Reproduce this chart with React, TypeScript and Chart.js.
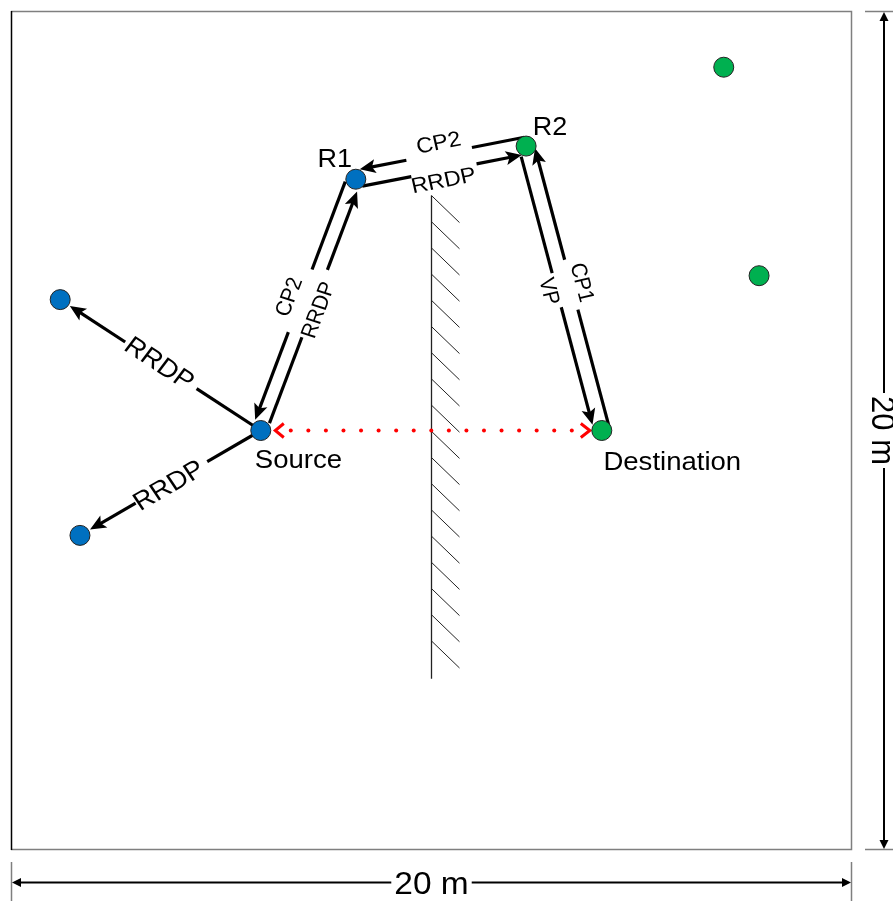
import React, { useEffect, useRef } from 'react';
import { Chart, registerables } from 'chart.js';

Chart.register(...registerables);

// ---------- data (metres, 20 m x 20 m area) ----------
const AREA_MIN = 0;
const AREA_MAX = 20;
const dimLabel = '20 m';

const blueNames = ['Source', 'R1', 'N1', 'N2'];
const blueX = [5.94, 8.2, 1.17, 1.64];
const blueY = [10.0, 15.99, 13.12, 7.5];

const greenNames = ['R2', 'Destination', 'N3', 'N4'];
const greenX = [12.25, 14.05, 16.95, 17.79];
const greenY = [16.78, 10.0, 18.66, 13.69];

const wallX = 10;
const wallYTop = 15.6;
const wallYBottom = 4.08;

const linkFrom = ['Source', 'R1', 'Source', 'Source', 'R1', 'R2', 'R2', 'Destination'];
const linkTo = ['R1', 'Source', 'N1', 'N2', 'R2', 'R1', 'Destination', 'R2'];
const linkLabels = ['RRDP', 'CP2', 'RRDP', 'RRDP', 'RRDP', 'CP2', 'VP', 'CP1'];

const losFrom = 'Source';
const losTo = 'Destination';

const labeledNodes = ['R1', 'R2', 'Source', 'Destination'];

// ---------- styles ----------
const FONT = '"Liberation Sans", Arial, sans-serif';
const SX = 1.08;
const BLUE = '#0070C0';
const GREEN = '#00B050';

// per link: perpendicular offset, start trim, end trim, gap (fractions), label t, label perp, font size
const linkStyle = [
  { off: 5.5, s: 10, e: 11, g0: 0.379, g1: 0.647, lt: 0.495, lp: 10, fs: 20.5 },
  { off: 9, s: 6, e: 8, g0: 0.372, g1: 0.621, lt: 0.498, lp: 22, fs: 20.5 },
  { off: 0, s: 0, e: 11.5, g0: 0.32, g1: 0.676, lt: 0.507, lp: 2, fs: 25.5 },
  { off: 0, s: 0, e: 11.6, g0: 0.296, g1: 0.692, lt: 0.513, lp: 0, fs: 25.5 },
  { off: 8, s: 5, e: 6, g0: 0.317, g1: 0.7, lt: 0.495, lp: 17, fs: 21.5 },
  { off: 9, s: 0, e: 5.7, g0: 0.308, g1: 0.693, lt: 0.492, lp: 21, fs: 21.5 },
  { off: 7.5, s: 9, e: 8, g0: 0.44, g1: 0.56, lt: 0.497, lp: 14, fs: 20.5 },
  { off: 8, s: 0, e: 4.5, g0: 0.418, g1: 0.593, lt: 0.503, lp: 20, fs: 20.5 },
];

const nodeLabelStyle: Record<string, { dx: number; dy: number; fs: number; align: CanvasTextAlign }> = {
  R1: { dx: -21, dy: -21, fs: 25, align: 'center' },
  R2: { dx: 24, dy: -20, fs: 25, align: 'center' },
  Source: { dx: -6, dy: 37.7, fs: 25.5, align: 'left' },
  Destination: { dx: 1.6, dy: 39.3, fs: 25.5, align: 'left' },
};

function drawText(
  ctx: CanvasRenderingContext2D,
  text: string,
  x: number,
  y: number,
  angle: number,
  size: number,
  align: CanvasTextAlign = 'center',
  capCenter = true
) {
  ctx.save();
  ctx.translate(x, y);
  ctx.scale(SX, 1);
  ctx.rotate(Math.atan2(SX * Math.sin(angle), Math.cos(angle)));
  ctx.font = `${size}px ${FONT}`;
  ctx.textAlign = align;
  ctx.textBaseline = 'alphabetic';
  ctx.fillStyle = '#000';
  ctx.fillText(text, 0, capCenter ? 0.36 * size : 0);
  ctx.restore();
}

function arrowHead(ctx: CanvasRenderingContext2D, tx: number, ty: number, ux: number, uy: number, L: number, W: number, notch: number) {
  const nx = -uy;
  const ny = ux;
  ctx.beginPath();
  ctx.moveTo(tx, ty);
  ctx.lineTo(tx - ux * L + nx * W, ty - uy * L + ny * W);
  ctx.lineTo(tx - ux * (L - notch), ty - uy * (L - notch));
  ctx.lineTo(tx - ux * L - nx * W, ty - uy * L - ny * W);
  ctx.closePath();
  ctx.fill();
}

function nodePx(chart: any, name: string) {
  const xs = chart.scales.x;
  const ys = chart.scales.y;
  let i = blueNames.indexOf(name);
  if (i >= 0) return { x: xs.getPixelForValue(blueX[i]), y: ys.getPixelForValue(blueY[i]) };
  i = greenNames.indexOf(name);
  return { x: xs.getPixelForValue(greenX[i]), y: ys.getPixelForValue(greenY[i]) };
}

const diagramPlugin = {
  id: 'diagram',
  beforeDatasetsDraw(chart: any) {
    const ctx: CanvasRenderingContext2D = chart.ctx;
    const a = chart.chartArea;
    const xs = chart.scales.x;
    const ys = chart.scales.y;
    ctx.save();

    // box border
    ctx.lineWidth = 1.5;
    ctx.strokeStyle = '#7f7f7f';
    ctx.beginPath();
    ctx.moveTo(a.left, a.top + 0.5);
    ctx.lineTo(a.right - 0.5, a.top + 0.5);
    ctx.lineTo(a.right - 0.5, a.bottom - 0.5);
    ctx.lineTo(a.left, a.bottom - 0.5);
    ctx.stroke();
    ctx.strokeStyle = '#000';
    ctx.beginPath();
    ctx.moveTo(a.left + 0.5, a.top);
    ctx.lineTo(a.left + 0.5, a.bottom);
    ctx.stroke();

    // wall with hatching
    const wx = xs.getPixelForValue(wallX);
    const wt = ys.getPixelForValue(wallYTop);
    const wb = ys.getPixelForValue(wallYBottom);
    ctx.strokeStyle = '#222';
    ctx.lineWidth = 1.3;
    ctx.beginPath();
    ctx.moveTo(wx, wt);
    ctx.lineTo(wx, wb);
    ctx.stroke();
    ctx.lineWidth = 1;
    const step = 26.2;
    const hdx = 28;
    const hdy = 27;
    for (let y0 = wt; y0 + hdy <= wb + 0.5; y0 += step) {
      ctx.beginPath();
      ctx.moveTo(wx, y0);
      ctx.lineTo(wx + hdx, y0 + hdy);
      ctx.stroke();
    }

    // links
    ctx.strokeStyle = '#000';
    ctx.fillStyle = '#000';
    ctx.lineWidth = 3.2;
    ctx.lineCap = 'butt';
    const AL = 16;
    const AW = 7;
    const AN = 3.5;
    linkFrom.forEach((f, i) => {
      const st = linkStyle[i];
      const A = nodePx(chart, f);
      const B = nodePx(chart, linkTo[i]);
      const dx = B.x - A.x;
      const dy = B.y - A.y;
      const len = Math.hypot(dx, dy);
      const ux = dx / len;
      const uy = dy / len;
      const nx = -uy;
      const ny = ux;
      const P = (t: number, p: number) => ({ x: A.x + ux * t + nx * p, y: A.y + uy * t + ny * p });
      const tip = len - st.e;
      const lineEnd = tip - (AL - AN - 1);
      const segs = [
        [st.s, st.g0 * len],
        [st.g1 * len, lineEnd],
      ];
      segs.forEach(([t0, t1]) => {
        const p0 = P(t0, st.off);
        const p1 = P(t1, st.off);
        ctx.beginPath();
        ctx.moveTo(p0.x, p0.y);
        ctx.lineTo(p1.x, p1.y);
        ctx.stroke();
      });
      const T = P(tip, st.off);
      arrowHead(ctx, T.x, T.y, ux, uy, AL, AW, AN);
      // label
      let ang = Math.atan2(uy, ux);
      if (ang > Math.PI / 2) ang -= Math.PI;
      if (ang <= -Math.PI / 2) ang += Math.PI;
      const L = P(st.lt * len, st.lp);
      drawText(ctx, linkLabels[i], L.x, L.y, ang, st.fs);
    });

    // line of sight (red dotted, double arrow)
    const S = nodePx(chart, losFrom);
    const D = nodePx(chart, losTo);
    ctx.fillStyle = '#FF0000';
    ctx.strokeStyle = '#FF0000';
    const x0 = S.x + 30;
    const x1 = D.x - 30;
    const nDots = 17;
    for (let k = 0; k < nDots; k++) {
      const x = x0 + ((x1 - x0) * k) / (nDots - 1);
      ctx.beginPath();
      ctx.arc(x, S.y, 2, 0, Math.PI * 2);
      ctx.fill();
    }
    ctx.lineWidth = 3;
    ctx.lineJoin = 'miter';
    ctx.beginPath();
    ctx.moveTo(S.x + 23, S.y - 7);
    ctx.lineTo(S.x + 14.5, S.y);
    ctx.lineTo(S.x + 23, S.y + 7);
    ctx.stroke();
    ctx.beginPath();
    ctx.moveTo(D.x - 21, D.y - 7);
    ctx.lineTo(D.x - 12, D.y);
    ctx.lineTo(D.x - 21, D.y + 7);
    ctx.stroke();

    ctx.restore();
  },
  afterDatasetsDraw(chart: any) {
    const ctx: CanvasRenderingContext2D = chart.ctx;
    const a = chart.chartArea;
    ctx.save();

    // node labels
    labeledNodes.forEach((name) => {
      const p = nodePx(chart, name);
      const st = nodeLabelStyle[name];
      drawText(ctx, name, p.x + st.dx, p.y + st.dy, 0, st.fs, st.align, st.align === 'center');
    });

    // dimension lines
    const fs = 31;
    ctx.font = `${fs}px ${FONT}`;
    const tw = ctx.measureText(dimLabel).width;

    // extension lines
    ctx.strokeStyle = '#7f7f7f';
    ctx.lineWidth = 1.5;
    ctx.beginPath();
    ctx.moveTo(a.left + 0.5, 862);
    ctx.lineTo(a.left + 0.5, 901);
    ctx.moveTo(a.right - 0.5, 862);
    ctx.lineTo(a.right - 0.5, 901);
    ctx.moveTo(865, a.top + 0.5);
    ctx.lineTo(893, a.top + 0.5);
    ctx.moveTo(865, a.bottom - 0.5);
    ctx.lineTo(893, a.bottom - 0.5);
    ctx.stroke();

    ctx.strokeStyle = '#000';
    ctx.fillStyle = '#000';
    ctx.lineWidth = 2;
    // bottom dimension
    const by = 882.5;
    const bcx = (a.left + a.right) / 2;
    const bhw = (tw * SX) / 2 + 3;
    ctx.beginPath();
    ctx.moveTo(a.left + 6, by);
    ctx.lineTo(bcx - bhw, by);
    ctx.moveTo(bcx + bhw, by);
    ctx.lineTo(a.right - 6, by);
    ctx.stroke();
    arrowHead(ctx, a.left + 1, by, -1, 0, 9, 4.5, 0);
    arrowHead(ctx, a.right - 1, by, 1, 0, 9, 4.5, 0);
    drawText(ctx, dimLabel, bcx, by, 0, fs);

    // right dimension
    const rx = 884;
    const rcy = (a.top + a.bottom) / 2;
    const rhw = tw / 2 + 3;
    ctx.beginPath();
    ctx.moveTo(rx, a.top + 6);
    ctx.lineTo(rx, rcy - rhw);
    ctx.moveTo(rx, rcy + rhw);
    ctx.lineTo(rx, a.bottom - 6);
    ctx.stroke();
    arrowHead(ctx, rx, a.top + 1, 0, -1, 9, 4.5, 0);
    arrowHead(ctx, rx, a.bottom - 1, 0, 1, 9, 4.5, 0);
    drawText(ctx, dimLabel, rx, rcy, Math.PI / 2, fs);

    ctx.restore();
  },
};

export default function App() {
  const ref = useRef<HTMLCanvasElement>(null);
  useEffect(() => {
    if (!ref.current) return;
    const chart = new Chart(ref.current, {
      type: 'scatter',
      data: {
        datasets: [
          {
            label: 'Blue nodes',
            data: blueX.map((x, i) => ({ x, y: blueY[i] })),
            backgroundColor: BLUE,
            borderColor: '#222',
            borderWidth: 1,
            pointRadius: 10,
          },
          {
            label: 'Green nodes',
            data: greenX.map((x, i) => ({ x, y: greenY[i] })),
            backgroundColor: GREEN,
            borderColor: '#222',
            borderWidth: 1,
            pointRadius: 10,
          },
        ],
      },
      options: {
        animation: false,
        responsive: false,
        maintainAspectRatio: false,
        events: [],
        layout: { padding: { left: 11, top: 7, right: 41, bottom: 51 } },
        scales: {
          x: { type: 'linear', min: AREA_MIN, max: AREA_MAX, display: false },
          y: { type: 'linear', min: AREA_MIN, max: AREA_MAX, display: false },
        },
        plugins: { legend: { display: false }, tooltip: { enabled: false } },
      },
      plugins: [diagramPlugin],
    });
    return () => chart.destroy();
  }, []);
  return (
    <div style={{ position: 'absolute', left: 0, top: 0, width: 893, height: 901, background: '#fff' }}>
      <canvas ref={ref} width={893} height={901} style={{ display: 'block', width: 893, height: 901 }} />
    </div>
  );
}
